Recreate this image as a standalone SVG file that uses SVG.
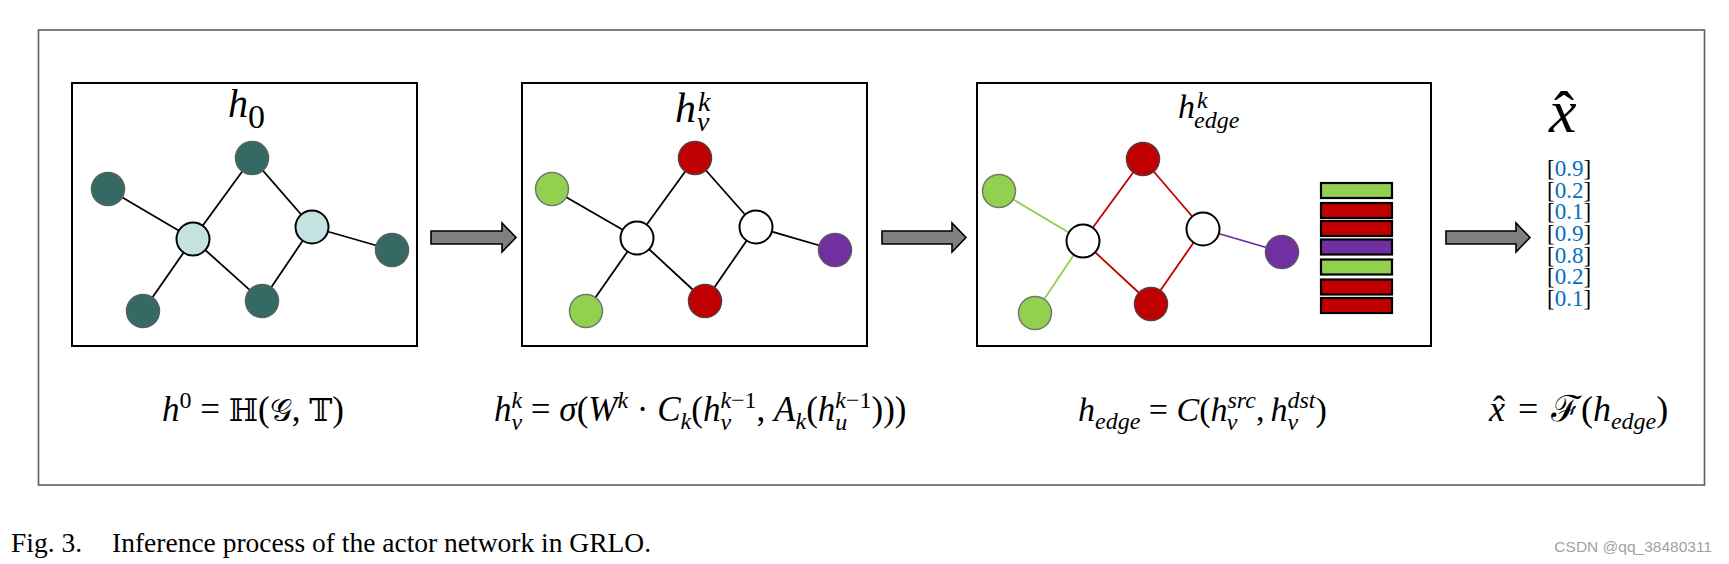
<svg xmlns="http://www.w3.org/2000/svg" width="1729" height="564" viewBox="0 0 1729 564">
<defs>
<style>
.bg{fill:#fff}
.frame{fill:none;stroke:#5e5e5e;stroke-width:1.6}
.panel{fill:#fff;stroke:#000;stroke-width:2}
.edge{stroke:#000;stroke-width:1.8;fill:none}
.eg{stroke:#92d050;stroke-width:1.8}
.er{stroke:#c00000;stroke-width:1.8}
.ep{stroke:#7030a0;stroke-width:1.8}
.dark{fill:#356a64;stroke:#56625f;stroke-width:1.5}
.light{fill:#c4e2df;stroke:#000;stroke-width:2}
.white{fill:#fff;stroke:#000;stroke-width:2}
.green{fill:#92d050;stroke:#6f7a68;stroke-width:1.5}
.red{fill:#c00000;stroke:#5c3a3a;stroke-width:1.5}
.purple{fill:#7030a0;stroke:#5e5566;stroke-width:1.5}
.arrow{fill:#7f7f7f;stroke:#000;stroke-width:1.6;stroke-linejoin:miter}
.bar{stroke:#000;stroke-width:2.2}
.m{font-family:"Liberation Serif","DejaVu Serif","Noto Sans",serif;fill:#000}
.i{font-style:italic}
.F{font-size:35px}
.F4{font-size:36px}
.S{font-size:24px}
.bb{font-size:31px}
.vec{font-family:"Liberation Serif",serif;font-size:23px;fill:#000}
.num{fill:#0070c0}
.cap{font-family:"Liberation Serif",serif;font-size:27.5px;fill:#000}
.wm{font-family:"Liberation Sans",Arial,sans-serif;font-size:15.5px;fill:#a2a2a2}
</style>
</defs>
<rect class="bg" x="0" y="0" width="1729" height="564"/>
<rect id="outer-frame" class="frame" x="38.5" y="30" width="1666" height="455"/>

<!-- panels -->
<g id="panel1"><rect class="panel" x="72" y="83" width="345" height="263"/>
<text class="m i" x="228" y="117" font-size="40">h</text><text class="m" x="248" y="128" font-size="34">0</text></g>
<g id="panel2"><rect class="panel" x="522" y="83" width="345" height="263"/>
<text class="m i" x="675" y="122" font-size="42">h</text><text class="m i" x="698" y="111" font-size="28">k</text><text class="m i" x="697" y="131" font-size="28">v</text></g>
<g id="panel3"><rect class="panel" x="977" y="83" width="454" height="263"/>
<text class="m i" x="1178" y="118" font-size="34">h</text><text class="m i" x="1197" y="108" font-size="24">k</text><text class="m i" x="1194" y="128" font-size="24">edge</text></g>

<!-- connectors -->
<g id="connectors">
<line class="edge" x1="108" y1="189" x2="193" y2="239"/>
<line class="edge" x1="193" y1="239" x2="252" y2="158"/>
<line class="edge" x1="252" y1="158" x2="312" y2="227"/>
<line class="edge" x1="312" y1="227" x2="392" y2="250"/>
<line class="edge" x1="193" y1="239" x2="143" y2="311"/>
<line class="edge" x1="193" y1="239" x2="262" y2="301"/>
<line class="edge" x1="262" y1="301" x2="312" y2="227"/>

<line class="edge" x1="552" y1="189" x2="637" y2="238"/>
<line class="edge" x1="637" y1="238" x2="695" y2="158"/>
<line class="edge" x1="695" y1="158" x2="756" y2="227"/>
<line class="edge" x1="756" y1="227" x2="835" y2="250"/>
<line class="edge" x1="637" y1="238" x2="586" y2="311"/>
<line class="edge" x1="637" y1="238" x2="705" y2="301"/>
<line class="edge" x1="705" y1="301" x2="756" y2="227"/>

<line class="eg" x1="999" y1="191" x2="1083" y2="241"/>
<line class="eg" x1="1035" y1="313" x2="1083" y2="241"/>
<line class="er" x1="1083" y1="241" x2="1143" y2="159"/>
<line class="er" x1="1143" y1="159" x2="1203" y2="229"/>
<line class="er" x1="1083" y1="241" x2="1151" y2="304"/>
<line class="er" x1="1151" y1="304" x2="1203" y2="229"/>
<line class="ep" x1="1203" y1="229" x2="1282" y2="252"/>

<polygon class="arrow" points="431,231 502,231 502,223 516,237.5 502,252 502,244 431,244"/>
<polygon class="arrow" points="882,231 952,231 952,223 966,237.5 952,252 952,244 882,244"/>
<polygon class="arrow" points="1446,231 1516,231 1516,223 1530,237.5 1516,252 1516,244 1446,244"/>
</g>

<!-- nodes panel 1 -->
<g id="p1-n1"><circle class="dark" cx="108" cy="189" r="16.5"/></g>
<g id="p1-n2"><circle class="dark" cx="252" cy="158" r="16.5"/></g>
<g id="p1-n3"><circle class="light" cx="193" cy="239" r="16.5"/></g>
<g id="p1-n4"><circle class="light" cx="312" cy="227" r="16.5"/></g>
<g id="p1-n5"><circle class="dark" cx="392" cy="250" r="16.5"/></g>
<g id="p1-n6"><circle class="dark" cx="143" cy="311" r="16.5"/></g>
<g id="p1-n7"><circle class="dark" cx="262" cy="301" r="16.5"/></g>
<!-- nodes panel 2 -->
<g id="p2-n1"><circle class="green" cx="552" cy="189" r="16.5"/></g>
<g id="p2-n2"><circle class="red" cx="695" cy="158" r="16.5"/></g>
<g id="p2-n3"><circle class="white" cx="637" cy="238" r="16.5"/></g>
<g id="p2-n4"><circle class="white" cx="756" cy="227" r="16.5"/></g>
<g id="p2-n5"><circle class="purple" cx="835" cy="250" r="16.5"/></g>
<g id="p2-n6"><circle class="green" cx="586" cy="311" r="16.5"/></g>
<g id="p2-n7"><circle class="red" cx="705" cy="301" r="16.5"/></g>
<!-- nodes panel 3 -->
<g id="p3-n1"><circle class="green" cx="999" cy="191" r="16.5"/></g>
<g id="p3-n2"><circle class="red" cx="1143" cy="159" r="16.5"/></g>
<g id="p3-n3"><circle class="white" cx="1083" cy="241" r="16.5"/></g>
<g id="p3-n4"><circle class="white" cx="1203" cy="229" r="16.5"/></g>
<g id="p3-n5"><circle class="purple" cx="1282" cy="252" r="16.5"/></g>
<g id="p3-n6"><circle class="green" cx="1035" cy="313" r="16.5"/></g>
<g id="p3-n7"><circle class="red" cx="1151" cy="304" r="16.5"/></g>

<g id="edge-bars">
<rect class="bar" x="1321" y="183" width="71" height="15" fill="#92d050"/>
<rect class="bar" x="1321" y="203" width="71" height="15" fill="#c00000"/>
<rect class="bar" x="1321" y="221" width="71" height="15" fill="#c00000"/>
<rect class="bar" x="1321" y="239.5" width="71" height="15" fill="#7030a0"/>
<rect class="bar" x="1321" y="259.5" width="71" height="15" fill="#92d050"/>
<rect class="bar" x="1321" y="279.5" width="71" height="15" fill="#c00000"/>
<rect class="bar" x="1321" y="298" width="71" height="15" fill="#c00000"/>
</g>

<g id="output">
<text class="m i" x="1549" y="132" font-size="62">x</text>
<text class="m" x="1564" y="132" font-size="60" text-anchor="middle">ˆ</text>
<text class="vec" x="1547" y="176">[<tspan class="num">0.9</tspan>]</text>
<text class="vec" x="1547" y="197.7">[<tspan class="num">0.2</tspan>]</text>
<text class="vec" x="1547" y="219.3">[<tspan class="num">0.1</tspan>]</text>
<text class="vec" x="1547" y="241">[<tspan class="num">0.9</tspan>]</text>
<text class="vec" x="1547" y="262.7">[<tspan class="num">0.8</tspan>]</text>
<text class="vec" x="1547" y="284.3">[<tspan class="num">0.2</tspan>]</text>
<text class="vec" x="1547" y="306">[<tspan class="num">0.1</tspan>]</text>
</g>

<g id="formulas">
<text class="m F" x="162" y="421"><tspan class="i">h</tspan><tspan class="S" dy="-13">0</tspan><tspan dy="13"> = </tspan><tspan class="bb">ℍ</tspan>(<tspan class="bb">𝒢</tspan>, <tspan class="bb">𝕋</tspan>)</text>
<text class="m F" x="494" y="421"><tspan class="i">h</tspan><tspan class="S i" dy="-13">k</tspan><tspan class="S i" dx="-10.7" dy="22">v</tspan><tspan dy="-9"> = </tspan><tspan class="i">σ</tspan>(<tspan class="i">W</tspan><tspan class="S i" dy="-13">k</tspan><tspan dy="13"> · </tspan><tspan class="i">C</tspan><tspan class="S i" dy="8">k</tspan><tspan dy="-8">(</tspan><tspan class="i">h</tspan><tspan class="S" dy="-13"><tspan class="i">k</tspan>−1</tspan><tspan class="S i" dx="-36.2" dy="22">v</tspan><tspan dx="25.5" dy="-9">, </tspan><tspan class="i">A</tspan><tspan class="S i" dy="8">k</tspan><tspan dy="-8">(</tspan><tspan class="i">h</tspan><tspan class="S" dy="-13"><tspan class="i">k</tspan>−1</tspan><tspan class="S i" dx="-36.2" dy="22">u</tspan><tspan dx="24.2" dy="-9">)))</tspan></text>
<text class="m" font-size="34" x="1078" y="421"><tspan class="i">h</tspan><tspan class="S i" dy="8">edge</tspan><tspan dy="-8"> = </tspan><tspan class="i">C</tspan>(<tspan class="i">h</tspan><tspan class="S i" dy="-13">src</tspan><tspan class="S i" dx="-29.3" dy="22">v</tspan><tspan dx="18.6" dy="-9">,</tspan><tspan class="i" dx="6">h</tspan><tspan class="S i" dy="-13">dst</tspan><tspan class="S i" dx="-28" dy="22">v</tspan><tspan dx="17.3" dy="-9">)</tspan></text>
<text class="m F4" x="1489" y="421"><tspan class="i">x</tspan><tspan dx="4"> = </tspan><tspan dx="4">ℱ(</tspan><tspan class="i">h</tspan><tspan class="S i" dy="8">edge</tspan><tspan dy="-8">)</tspan></text>
<text class="m F4" x="1499" y="421" text-anchor="middle">ˆ</text>
</g>

<text class="cap" x="11" y="552">Fig. 3.</text>
<text class="cap" x="112" y="552">Inference process of the actor network in GRLO.</text>
<text class="wm" x="1712" y="552" text-anchor="end">CSDN @qq_38480311</text>
</svg>
